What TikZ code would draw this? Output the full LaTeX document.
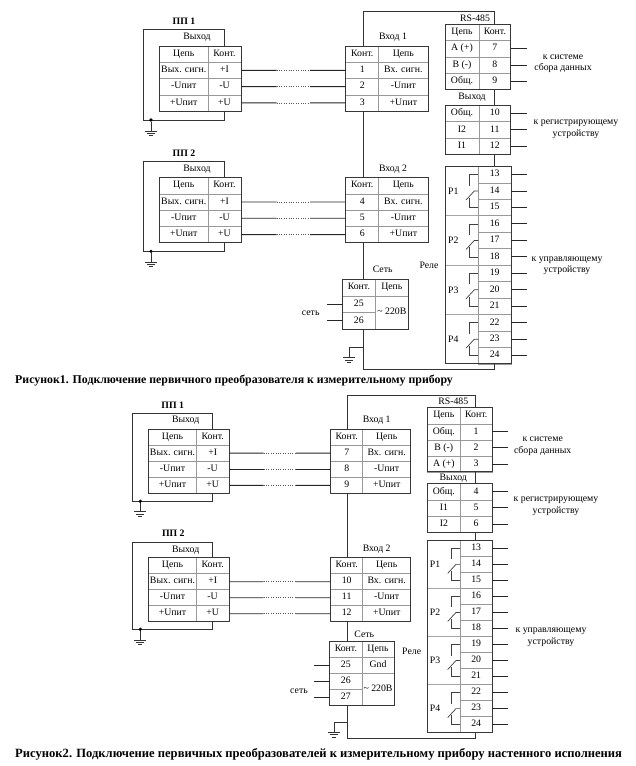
\documentclass[tikz,border=0pt]{standalone}
\usepackage{fontspec}
\setmainfont{Liberation Serif}
\usetikzlibrary{calc}
\tikzset{
  x=1pt,y=-1pt,
  cellbox/.style={draw=black!40,line width=.45pt,inner sep=0pt,outer sep=0pt,text height=6pt,text depth=1.5pt,font=\fontsize{9.8}{11.5}\selectfont},
  outerbox/.style={draw=black!78,line width=1pt,inner sep=0pt,outer sep=0pt},
  lab/.style={inner sep=0pt,font=\fontsize{9.8}{11.5}\selectfont,align=center},
  titlelab/.style={inner sep=0pt,font=\bfseries\fontsize{9.8}{11.5}\selectfont},
  caplab/.style={inner sep=0pt,anchor=west,font=\bfseries\fontsize{11.85}{13}\selectfont},
  caplabb/.style={inner sep=0pt,anchor=west,font=\bfseries\fontsize{12.6}{14}\selectfont},
  wire/.style={draw=black!85,line width=.9pt},
  wiredot/.style={draw=black!65,line width=.7pt,dash pattern=on 1pt off 1.4pt},
  conn/.style={draw=black!80,line width=.85pt},
  sw/.style={draw=black!75,line width=.7pt},
  grp/.style={draw=black!35,line width=.5pt},
  gdot/.style={circle,fill=black,inner sep=0pt,minimum size=3.6pt},
}
\newcommand{\cellat}[6]{%
  \pgfmathsetmacro\myw{#4-#2}\pgfmathsetmacro\myh{#5-#3}%
  \pgfmathsetmacro\myx{(#2+#4)/2}\pgfmathsetmacro\myy{(#3+#5)/2}%
  \node[cellbox,minimum width=\myw pt,minimum height=\myh pt] (#1) at (\myx,\myy) {#6};}
\newcommand{\boxat}[5]{%
  \pgfmathsetmacro\myw{#4-#2}\pgfmathsetmacro\myh{#5-#3}%
  \pgfmathsetmacro\myx{(#2+#4)/2}\pgfmathsetmacro\myy{(#3+#5)/2}%
  \node[outerbox,minimum width=\myw pt,minimum height=\myh pt] (#1) at (\myx,\myy) {};}
% prefix, x1, xs, x2, y0, h, rows L/R
\newcommand{\tbl}[7]{%
  \foreach \lt/\rt [count=\ri] in {#7} {%
    \pgfmathsetmacro\ya{#5+(\ri-1)*#6}\pgfmathsetmacro\yb{#5+\ri*#6}%
    \cellat{#1\ri L}{#2}{\ya}{#3}{\yb}{\lt}%
    \cellat{#1\ri R}{#3}{\ya}{#4}{\yb}{\rt}%
    \xdef\lastrow{\yb}%
  }%
  \boxat{#1box}{#2}{#5}{#4}{\lastrow}}
% prefix, x1, xs, x2, y0, h
\newcommand{\relay}[6]{%
  \foreach \ri in {13,...,24} {%
    \pgfmathsetmacro\ya{#5+(\ri-13)*#6}\pgfmathsetmacro\yb{#5+(\ri-12)*#6}%
    \cellat{#1\ri}{#3}{\ya}{#4}{\yb}{\ri}%
  }%
  \foreach \gi/\ga/\gb/\gc/\gt in {1/13/14/15/Р1,2/16/17/18/Р2,3/19/20/21/Р3,4/22/23/24/Р4} {%
    \draw[sw] (#1\ga.west) -- ++(-9,0) -- ++(0,11);
    \draw[sw] (#1\gb.west) -- ++(-4,0) -- ++(-8.3,9);
    \draw[sw] (#1\gc.west) -- ++(-9,0) -- ++(0,-9.5);
    \node[lab] (#1lab\gi) at ($(#1\gb.west)+(-25,0)$) {\gt};
  }%
  \foreach \gc in {15,18,21} {\draw[grp] (#1\gc.south west) -- ++(#2-#3,0);}%
  \pgfmathsetmacro\ye{#5+12*#6}%
  \boxat{#1box}{#2}{#5}{#4}{\ye}}
\newcommand{\lnk}[2]{%
  \coordinate (#1m1) at ($(#1.east)!.34!(#2.west)$);
  \coordinate (#1m2) at ($(#1.east)!.66!(#2.west)$);
  \draw[wire] (#1.east) -- (#1m1);
  \draw[wiredot] (#1m1) -- (#1m2);
  \draw[wire] (#1m2) -- (#2.west);}
\newcommand{\stubE}[2]{\coordinate (#1e) at ($(#1.east)+(#2,0)$);\draw[wire] (#1.east) -- (#1e);}
\newcommand{\stubW}[2]{\coordinate (#1e) at ($(#1.west)+(-#2,0)$);\draw[wire] (#1.west) -- (#1e);}
\newcommand{\gnd}[3]{%
  \coordinate (#1) at (#2,#3);
  \draw[conn] ($(#1)+(-6,0)$) -- ($(#1)+(6,0)$);
  \draw[conn] ($(#1)+(-4,2.4)$) -- ($(#1)+(4,2.4)$);
  \draw[conn] ($(#1)+(-2,4.8)$) -- ($(#1)+(2,4.8)$);}
% prefix, x left, y top, x right, y bottom, x dot, ground y
\newcommand{\sensorframe}[7]{%
  \coordinate (#1b) at (#4,#3);
  \coordinate (#1c) at (#2,#3);
  \coordinate (#1d) at (#2,#5);
  \coordinate (#1f) at (#4,#5);
  \draw[conn] (#1box.north -| #1b) -- (#1b) -- (#1c) -- (#1d) -- (#1f) -- (#1box.south -| #1f);
  \node[gdot] (#1dot) at (#6,#5) {};
  \gnd{#1g}{#6}{#7}
  \draw[conn] (#1dot) -- (#1g);}
\begin{document}
\begin{tikzpicture}
\useasboundingbox (0,0) rectangle (635,766);
\fill[white] (0,0) rectangle (635,766);

%%%% Figure 1
\node[titlelab] (t1) at (184,21) {ПП 1};
\node[lab] (o1) at (197,37.5) {Выход};
\tbl{pa}{159.5}{208}{241}{46}{16.25}{Цепь/Конт.,Вых. сигн./+I,-Uпит/-U,+Uпит/+U}
\sensorframe{pa}{143}{29.5}{224}{120}{151}{131}

\node[titlelab] (t2) at (184,153) {ПП 2};
\node[lab] (o2) at (197,169) {Выход};
\tbl{pb}{159.5}{208}{241}{177.5}{16.3}{Цепь/Конт.,Вых. сигн./+I,-Uпит/-U,+Uпит/+U}
\sensorframe{pb}{143}{161}{224}{251.3}{151}{262}

\node[lab] (i1) at (393,37.5) {Вход 1};
\tbl{ia}{345.7}{378.7}{428}{46}{16.25}{Конт./Цепь,1/Вх. сигн.,2/-Uпит,3/+Uпит}
\node[lab] (i2) at (393,169) {Вход 2};
\tbl{ib}{345.7}{378.7}{428}{177.5}{16.3}{Конт./Цепь,4/Вх. сигн.,5/-Uпит,6/+Uпит}

\lnk{pa2R}{ia2L}\lnk{pa3R}{ia3L}\lnk{pa4R}{ia4L}
\lnk{pb2R}{ib2L}\lnk{pb3R}{ib3L}\lnk{pb4R}{ib4L}

\node[lab] (rs1) at (475,18) {RS-485};
\tbl{ra}{445}{479}{510.7}{24}{16.4}{Цепь/Конт.,A (+)/7,B (-)/8,Общ./9}
\node[lab] (q1) at (472,97) {Выход};
\tbl{qa}{445}{479}{510.7}{105}{16.55}{Общ./10,I2/11,I1/12}
\relay{ka}{445.3}{478.3}{511}{166.3}{16.47}
\stubE{ra2R}{16}\stubE{ra3R}{16}\stubE{ra4R}{16}
\stubE{qa1R}{16}\stubE{qa2R}{16}\stubE{qa3R}{16}
\foreach \n in {13,...,24} {\stubE{ka\n}{16}}
\node[lab] (s1) at (563,63.5) {к системе\\сбора данных};
\node[lab] (s2) at (576,129) {к регистрирующему\\устройству};
\node[lab] (s3) at (567,265.5) {к управляющему\\устройству};
\node[lab] (re1) at (429,265) {Реле};
\node[lab] (n1) at (382.7,269) {Сеть};
\cellat{na1}{342.7}{279.3}{375}{296}{Конт.}
\cellat{na2}{375}{279.3}{408.7}{296}{Цепь}
\cellat{na3}{342.7}{296}{375}{312.7}{25}
\cellat{na4}{342.7}{312.7}{375}{329}{26}
\cellat{na5}{375}{296}{408.7}{329}{\textasciitilde{} 220В}
\boxat{nabox}{342.7}{279.3}{408.7}{329}
\stubW{na3}{16}\stubW{na4}{16}
\node[lab] (n1s) at (310.7,313.3) {сеть};

\coordinate (a1) at (363,11);
\coordinate (a2) at (494,11);
\draw[conn] (iabox.north -| a1) -- (a1) -- (a2) -- (rabox.north -| a2);
\draw[conn] (rabox.south -| a2) -- (qabox.north -| a2);
\draw[conn] (qabox.south -| a2) -- (kabox.north -| a2);
\draw[conn] (iabox.south -| a1) -- (ibbox.north -| a1);
\draw[conn] (ibbox.south -| a1) -- (nabox.north -| a1);
\coordinate (a3) at (363,369.3);
\coordinate (a4) at (494,369.3);
\draw[conn] (nabox.south -| a3) -- (a3) -- (a4) -- (kabox.south -| a4);
\coordinate (a5) at (363,347.3);
\coordinate (a6) at (349,347.3);
\gnd{ag}{349}{357.7}
\draw[conn] (a5) -- (a6) -- (ag);

\node[caplab] (c1) at (15,381) {Рисунок1. Подключение первичного преобразователя к измерительному прибору};

%%%% Figure 2
\node[titlelab] (t3) at (172.7,405) {ПП 1};
\node[lab] (o3) at (185.7,420.7) {Выход};
\tbl{pc}{148.7}{196.3}{229}{429}{16.1}{Цепь/Конт.,Вых. сигн./+I,-Uпит/-U,+Uпит/+U}
\sensorframe{pc}{132.7}{413.3}{212.3}{501.3}{140.3}{511.7}

\node[titlelab] (t4) at (173.3,533.3) {ПП 2};
\node[lab] (o4) at (185.7,550) {Выход};
\tbl{pd}{148.7}{196.3}{229}{557.7}{16}{Цепь/Конт.,Вых. сигн./+I,-Uпит/-U,+Uпит/+U}
\sensorframe{pd}{132.7}{542.3}{212.3}{629.3}{140.3}{640}

\node[lab] (i3) at (376.7,420.7) {Вход 1};
\tbl{ic}{330.7}{362.7}{410.7}{429}{16.1}{Конт./Цепь,7/Вх. сигн.,8/-Uпит,9/+Uпит}
\node[lab] (i4) at (376.7,549.3) {Вход 2};
\tbl{id}{330.7}{362.7}{410.7}{557.7}{16}{Конт./Цепь,10/Вх. сигн.,11/-Uпит,12/+Uпит}

\lnk{pc2R}{ic2L}\lnk{pc3R}{ic3L}\lnk{pc4R}{ic4L}
\lnk{pd2R}{id2L}\lnk{pd3R}{id3L}\lnk{pd4R}{id4L}

\node[lab] (rs2) at (453.3,401) {RS-485};
\tbl{rc}{427.7}{460}{492.3}{407.7}{16.07}{Цепь/Конт.,Общ./1,B (-)/2,A (+)/3}
\node[lab] (q2) at (453.3,478) {Выход};
\tbl{qc}{427.7}{460}{492.3}{483.7}{16.1}{Общ./4,I1/5,I2/6}
\relay{kc}{427.7}{460}{492.3}{540.3}{16.03}
\stubE{rc2R}{16}\stubE{rc3R}{16}\stubE{rc4R}{16}
\stubE{qc1R}{16}\stubE{qc2R}{16}\stubE{qc3R}{16}
\foreach \n in {13,...,24} {\stubE{kc\n}{16}}
\node[lab] (s4) at (542.7,446.2) {к системе\\сбора данных};
\node[lab] (s5) at (556,506.3) {к регистрирующему\\устройству};
\node[lab] (s6) at (551,637) {к управляющему\\устройству};
\node[lab] (re2) at (411.7,651) {Реле};
\node[lab] (n2) at (364.3,634) {Сеть};
\cellat{nc1}{329.7}{641.3}{362}{657}{Конт.}
\cellat{nc2}{362}{641.3}{394}{657}{Цепь}
\cellat{nc3}{329.7}{657}{362}{673.3}{25}
\cellat{nc4}{329.7}{673.3}{362}{689.3}{26}
\cellat{nc5}{329.7}{689.3}{362}{705.7}{27}
\cellat{nc6}{362}{657}{394}{673.3}{Gnd}
\cellat{nc7}{362}{673.3}{394}{705.7}{\textasciitilde{} 220В}
\boxat{ncbox}{329.7}{641.3}{394}{705.7}
\stubW{nc3}{16}\stubW{nc4}{16}\stubW{nc5}{16}
\node[lab] (n2s) at (299,691) {сеть};

\coordinate (b1) at (347.7,395);
\coordinate (b2) at (475.7,395);
\draw[conn] (icbox.north -| b1) -- (b1) -- (b2) -- (rcbox.north -| b2);
\draw[conn] (rcbox.south -| b2) -- (qcbox.north -| b2);
\draw[conn] (qcbox.south -| b2) -- (kcbox.north -| b2);
\draw[conn] (icbox.south -| b1) -- (idbox.north -| b1);
\draw[conn] (idbox.south -| b1) -- (ncbox.north -| b1);
\coordinate (b3) at (347.7,738.3);
\coordinate (b4) at (475.7,738.3);
\draw[conn] (ncbox.south -| b3) -- (b3) -- (b4) -- (kcbox.south -| b4);
\coordinate (b5) at (347.7,722.3);
\coordinate (b6) at (334,722.3);
\gnd{bg}{334}{732.3}
\draw[conn] (b5) -- (b6) -- (bg);

\node[caplabb] (c2) at (15,754) {Рисунок2. Подключение первичных преобразователей к измерительному прибору настенного исполнения};
\end{tikzpicture}
\end{document}
